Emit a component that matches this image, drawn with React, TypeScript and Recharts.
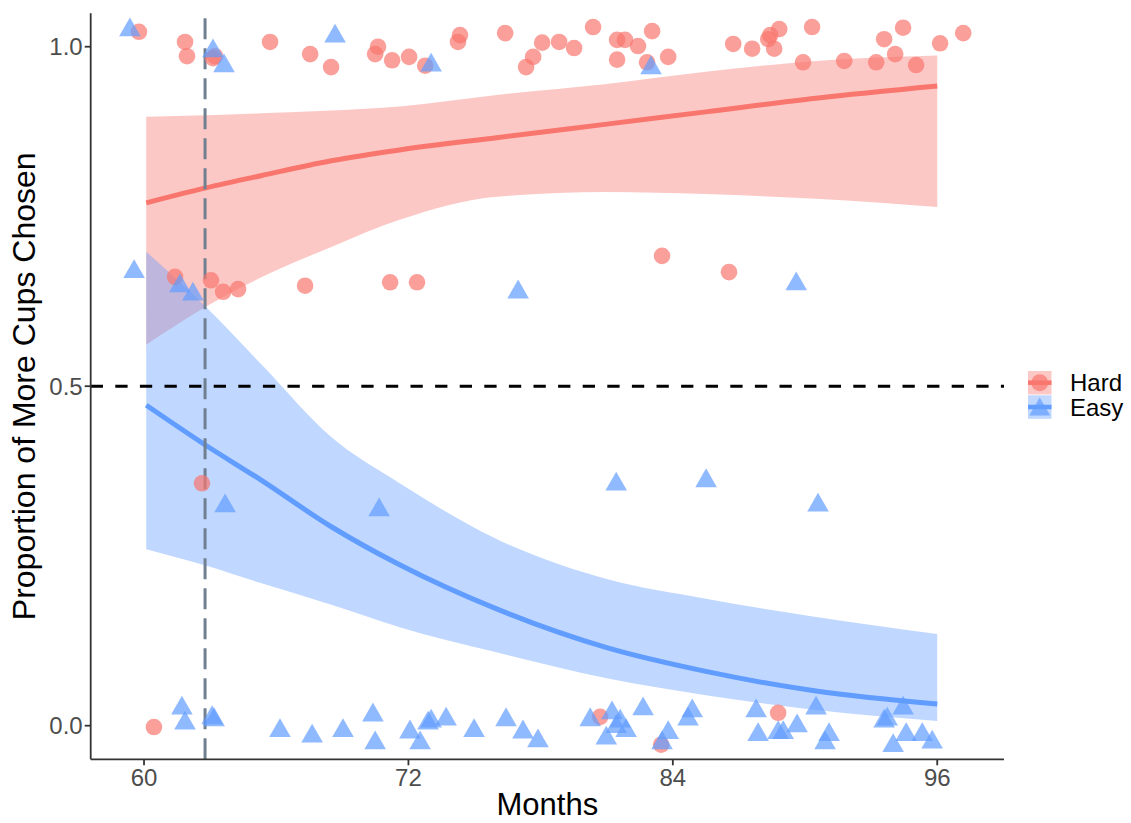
import React from 'react';
import { ComposedChart, XAxis, YAxis, Scatter, Area, Line, ReferenceLine } from 'recharts';

const FONT = '"Liberation Sans", Arial, Helvetica, sans-serif';
const HARD = '#F8766D';
const EASY = '#619CFF';

const xTicks = [60, 72, 84, 96];
const yTicks = [0, 0.5, 1];
const xDomain = [57.58, 99.03];
const yDomain = [-0.0495, 1.0492];
const chanceLevel = 0.5;
const cutoffMonth = 62.77;

// fitted curves
const curveMonths = [60.1, 62.8, 65.3, 68.5, 71.6, 76.0, 81.0, 85.5, 90.5, 96.0];
const hardFit = [0.770, 0.792, 0.810, 0.832, 0.848, 0.866, 0.886, 0.904, 0.924, 0.942];
const hardHi = [0.897, 0.899, 0.902, 0.906, 0.912, 0.929, 0.945, 0.963, 0.979, 0.987];
const hardLo = [0.561, 0.617, 0.660, 0.705, 0.745, 0.779, 0.786, 0.783, 0.776, 0.764];
const easyFit = [0.472, 0.413, 0.362, 0.293, 0.237, 0.172, 0.115, 0.080, 0.051, 0.032];
const easyHi = [0.698, 0.617, 0.533, 0.425, 0.357, 0.275, 0.216, 0.187, 0.160, 0.135];
const easyLo = [0.260, 0.236, 0.210, 0.178, 0.145, 0.108, 0.070, 0.045, 0.023, 0.007];

// jittered observations: Hard
const hardMonths = [
  59.77, 61.86, 61.95, 63.13, 63.22, 65.72, 67.54, 68.49, 70.62, 70.49, 71.26, 72.03, 72.76, 74.34, 74.25,
  76.39, 77.66, 78.07, 77.34, 78.84, 79.52, 80.38, 81.47, 81.83, 81.47, 82.42, 83.06, 82.83, 83.79, 86.74,
  87.60, 88.33, 88.42, 88.60, 88.83, 90.32, 89.91, 91.78, 93.23, 93.59, 94.45, 94.09, 95.04, 96.13, 97.18,
  61.41, 63.04, 63.59, 64.27, 67.31, 71.17, 72.39, 83.51, 86.55,
  62.63,
  60.45, 80.70, 83.47, 88.78,
];
const hardProps = [
  1.022, 1.007, 0.986, 0.983, 0.986, 1.007, 0.989, 0.970, 1.000, 0.989, 0.980, 0.985, 0.972, 1.017, 1.007,
  1.020, 0.985, 1.006, 0.970, 1.007, 0.998, 1.029, 1.010, 1.010, 0.981, 1.001, 1.023, 0.977, 0.985, 1.004,
  0.997, 1.011, 1.017, 0.997, 1.026, 1.029, 0.977, 0.979, 0.977, 1.011, 1.028, 0.989, 0.973, 1.005, 1.020,
  0.661, 0.656, 0.639, 0.643, 0.648, 0.653, 0.653, 0.692, 0.668,
  0.357,
  -0.002, 0.013, -0.028, 0.019,
];

// jittered observations: Easy
const easyMonths = [
  59.36, 68.67, 63.13, 63.63, 73.03, 83.01,
  59.55, 61.63, 62.22, 76.98, 89.60,
  63.68, 70.67, 81.43, 85.51, 90.59,
  61.72, 61.86, 63.09, 63.18, 66.17, 67.63, 69.03, 70.39, 70.49, 72.07, 72.53, 72.89, 73.03, 73.71, 74.98,
  76.43, 77.20, 77.88, 80.25, 80.98, 81.24, 81.61, 81.88, 81.43, 82.65, 83.51, 83.79, 84.69, 84.88, 87.78,
  87.87, 88.78, 89.01, 89.64, 90.50, 90.91, 91.09, 93.59, 93.73, 94.45, 94.59, 94.00, 95.32, 95.77,
];
const easyProps = [
  1.029, 1.020, 0.998, 0.976, 0.977, 0.973,
  0.673, 0.652, 0.640, 0.643, 0.655,
  0.328, 0.322, 0.360, 0.365, 0.329,
  0.030, 0.008, 0.016, 0.013, -0.003, -0.011, -0.003, 0.020, -0.021, -0.005, -0.021, 0.008, 0.011, 0.014, -0.003,
  0.013, -0.005, -0.018, 0.013, -0.014, 0.023, 0.011, -0.003, 0.003, 0.029, -0.021, -0.006, 0.014, 0.026, 0.026,
  -0.009, -0.006, -0.006, 0.004, 0.030, -0.021, -0.009, 0.011, 0.014, 0.030, -0.009, -0.025, -0.009, -0.020,
];

const hardPoints = hardMonths.map((x, i) => ({ x, y: hardProps[i] }));
const easyPoints = easyMonths.map((x, i) => ({ x, y: easyProps[i] }));
const hardBand = curveMonths.map((x, i) => ({ x, range: [hardLo[i], hardHi[i]], fit: hardFit[i] }));
const easyBand = curveMonths.map((x, i) => ({ x, range: [easyLo[i], easyHi[i]], fit: easyFit[i] }));

const renderCircle = (props: any) => (
  <circle cx={props.cx} cy={props.cy} r={8.3} fill={HARD} fillOpacity={0.7} />
);
const renderTriangle = (props: any) => {
  const { cx, cy } = props;
  return (
    <polygon
      points={`${cx},${cy - 9.5} ${cx + 10.8},${cy + 9.3} ${cx - 10.8},${cy + 9.3}`}
      fill={EASY}
      fillOpacity={0.7}
    />
  );
};

const legendItems = [
  { label: 'Hard', color: HARD, shape: 'circle' },
  { label: 'Easy', color: EASY, shape: 'triangle' },
];

const LegendBox = () => (
  <svg width={103} height={50} style={{ position: 'absolute', left: 1028, top: 370, overflow: 'visible' }}>
    {legendItems.map((it, i) => {
      const y0 = 1 + i * 24.3;
      const cy = y0 + 11.7;
      return (
        <g key={it.label}>
          <rect x={0} y={y0} width={23.5} height={23.5} fill={it.color} fillOpacity={0.4} />
          <line x1={0} x2={23.5} y1={cy} y2={cy} stroke={it.color} strokeWidth={4.5} />
          {it.shape === 'circle' ? (
            <circle cx={11.75} cy={cy} r={8.5} fill={it.color} fillOpacity={0.7} />
          ) : (
            <polygon
              points={`11.75,${cy - 9.5} ${11.75 + 10.5},${cy + 8.5} ${11.75 - 10.5},${cy + 8.5}`}
              fill={it.color}
              fillOpacity={0.7}
            />
          )}
          <text x={42} y={cy} dominantBaseline="central" fontSize={24} fontFamily={FONT} fill="#000">
            {it.label}
          </text>
        </g>
      );
    })}
  </svg>
);

export default function App() {
  return (
    <div style={{ position: 'absolute', left: 0, top: 0, width: 1131, height: 823, background: '#fff' }}>
      <ComposedChart
        width={1131}
        height={823}
        margin={{ top: 13.3, right: 127, left: 0, bottom: 0 }}
      >
        <XAxis
          type="number"
          dataKey="x"
          domain={xDomain}
          allowDataOverflow
          ticks={xTicks}
          interval={0}
          height={63.7}
          tickSize={6}
          tickMargin={4}
          axisLine={{ stroke: '#333333', strokeWidth: 1.8 }}
          tickLine={{ stroke: '#333333', strokeWidth: 1.8 }}
          tick={{ fill: '#4D4D4D', fontSize: 24, fontFamily: FONT }}
          label={{
            value: 'Months',
            position: 'insideBottom',
            offset: 8,
            style: { fontSize: 31, fill: '#000', fontFamily: FONT, textAnchor: 'middle' },
          }}
        />
        <YAxis
          type="number"
          dataKey="y"
          domain={yDomain}
          allowDataOverflow
          ticks={yTicks}
          interval={0}
          width={90.7}
          tickSize={6}
          tickMargin={2}
          tickFormatter={(v: number) => v.toFixed(1)}
          axisLine={{ stroke: '#333333', strokeWidth: 1.8 }}
          tickLine={{ stroke: '#333333', strokeWidth: 1.8 }}
          tick={{ fill: '#4D4D4D', fontSize: 24, fontFamily: FONT }}
          label={{
            value: 'Proportion of More Cups Chosen',
            angle: -90,
            position: 'insideLeft',
            offset: 24,
            style: { fontSize: 32, fill: '#000', fontFamily: FONT, textAnchor: 'middle' },
          }}
        />
        <Scatter data={hardPoints} dataKey="y" shape={renderCircle} isAnimationActive={false} />
        <Scatter data={easyPoints} dataKey="y" shape={renderTriangle} isAnimationActive={false} />
        <Area
          data={hardBand}
          dataKey="range"
          type="monotone"
          stroke="none"
          fill={HARD}
          fillOpacity={0.4}
          isAnimationActive={false}
          activeDot={false}
        />
        <Line
          data={hardBand}
          dataKey="fit"
          type="monotone"
          stroke={HARD}
          strokeWidth={5}
          dot={false}
          activeDot={false}
          isAnimationActive={false}
        />
        <Area
          data={easyBand}
          dataKey="range"
          type="monotone"
          stroke="none"
          fill={EASY}
          fillOpacity={0.4}
          isAnimationActive={false}
          activeDot={false}
        />
        <Line
          data={easyBand}
          dataKey="fit"
          type="monotone"
          stroke={EASY}
          strokeWidth={5}
          dot={false}
          activeDot={false}
          isAnimationActive={false}
        />
        <ReferenceLine y={chanceLevel} stroke="#000000" strokeWidth={3} strokeDasharray="12.3 12.3" />
        <ReferenceLine x={cutoffMonth} stroke="#708090" strokeWidth={3} strokeDasharray="21 9" />
      </ComposedChart>
      <LegendBox />
    </div>
  );
}
